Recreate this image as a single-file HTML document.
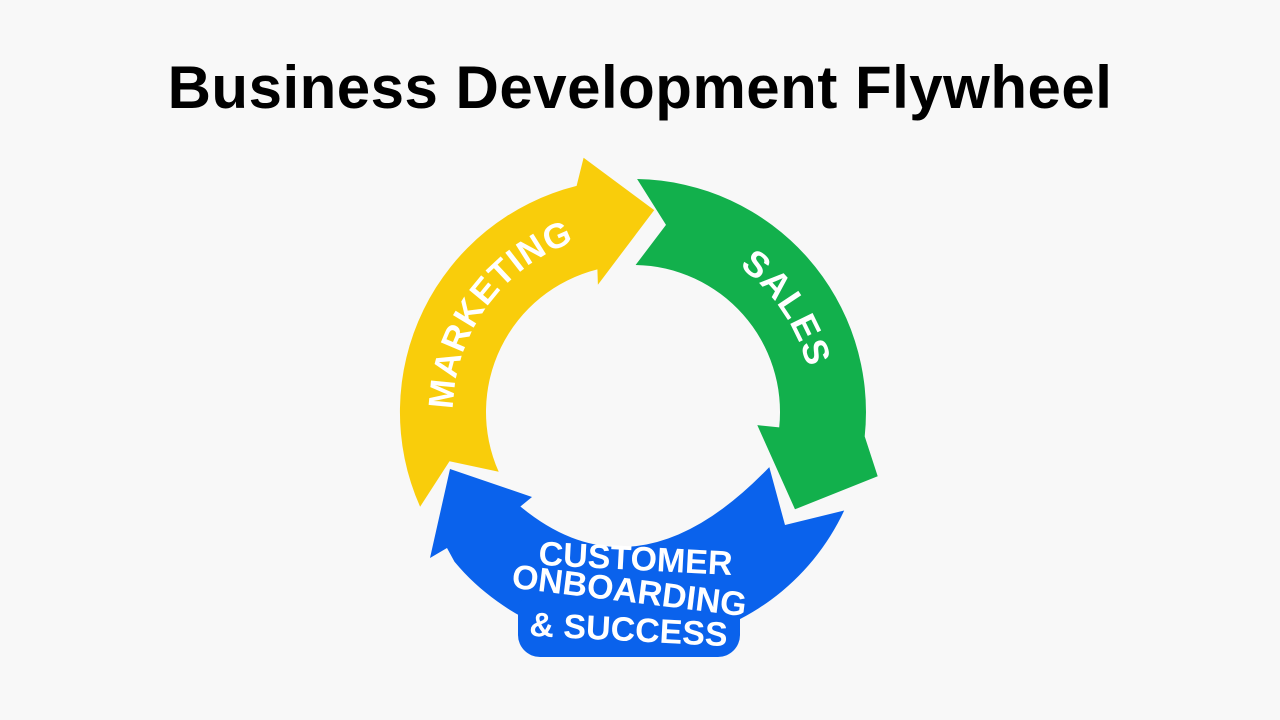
<!DOCTYPE html>
<html><head><meta charset="utf-8"><style>
html,body{margin:0;padding:0;background:#f8f8f8;}
body{width:1280px;height:720px;overflow:hidden;position:relative;font-family:"Liberation Sans",sans-serif;}
h1{position:absolute;top:53px;left:0;width:1280px;text-align:center;margin:0;font-size:60px;font-weight:bold;color:#000;letter-spacing:0.5px;}
svg{position:absolute;left:0;top:0;}
</style></head><body>
<h1>Business Development Flywheel</h1>
<svg id="s" width="1280" height="720" viewBox="0 0 1280 720"></svg>
<script>
var cx=633,cy=412,R=233,r=147,m=(R+r)/2;
function P(rad,a){a=a*Math.PI/180;return (cx+rad*Math.cos(a)).toFixed(1)+","+(cy+rad*Math.sin(a)).toFixed(1);}
function arrow(a0,a1,wo,wi,tip,col){
 var lg=(a1-a0)>180?1:0;
 var d="M"+P(R,a0)+" A"+R+" "+R+" 0 "+lg+" 1 "+P(R,a1)+" L"+P(wo[0],wo[1])+" L"+P(tip[0],tip[1])+" L"+P(wi[0],wi[1])+" L"+P(r,a1)+" A"+r+" "+r+" 0 "+lg+" 0 "+P(r,a0)+" L"+P(m,a0+9)+" Z";
 return '<path d="'+d+'" fill="'+col+'"/>';
}
function arcPath(id,rad,a0,a1,sw){return '<path id="'+id+'" d="M'+P(rad,a0)+' A'+rad+' '+rad+' 0 0 '+sw+' '+P(rad,a1)+'" fill="none"/>';}
var h="";
h+=arrow(156,256,[259,259],[132,254.6],[203,276],"#F9CD0B");
h+=arrow(271,366,[253,374.7],[125,366],[189,391],"#12B04C");
var blue="#0A62EC";
h+='<path d="M'+P(R,25)+' A'+R+' '+R+' 0 0 1 '+P(R,140)+' L447,548 L430,558 L450,469 L532,497 L'+P(r,140)+' Q638,604 '+P(r,22)+' L785,525 Z" fill="'+blue+'"/>';
h+='<rect x="518" y="590" width="222" height="67" rx="22" fill="'+blue+'"/>';
h+=arcPath("pm",180,178,254,1)+arcPath("ps",180,300,352,1);
h+='<text font-family="Liberation Sans, sans-serif" font-weight="bold" font-size="35" fill="#fff" letter-spacing="1"><textPath href="#pm" startOffset="50%" text-anchor="middle">MARKETING</textPath></text>';
h+='<text font-family="Liberation Sans, sans-serif" font-weight="bold" font-size="36" fill="#fff" letter-spacing="1"><textPath href="#ps" startOffset="50%" text-anchor="middle">SALES</textPath></text>';
var t='font-family="Liberation Sans, sans-serif" font-weight="bold" font-size="34" fill="#fff" text-anchor="middle"';
h+='<text '+t+' transform="translate(635,570) rotate(3)">CUSTOMER</text>';
h+='<text '+t+' transform="translate(628,602) rotate(7)">ONBOARDING</text>';
h+='<text '+t+' transform="translate(628,641) rotate(3)">&amp; SUCCESS</text>';
document.getElementById("s").innerHTML=h;
</script>
</body></html>
